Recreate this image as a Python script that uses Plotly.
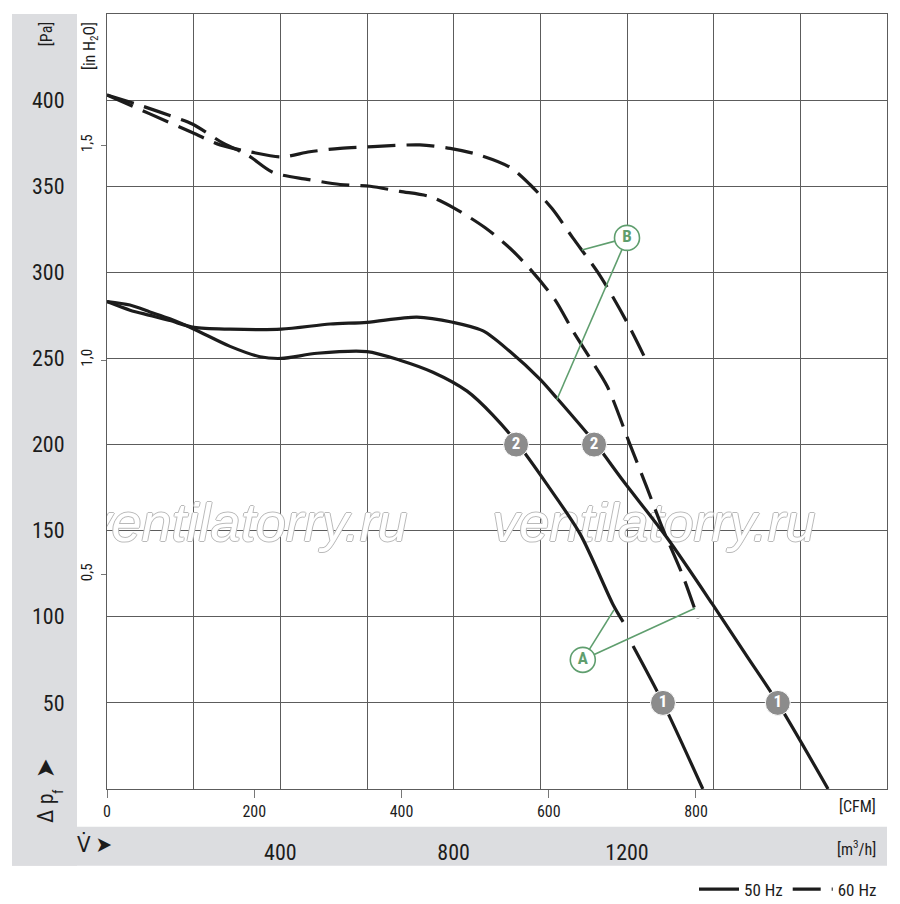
import plotly.graph_objects as go

# fan curves, flow in m3/h, pressure in Pa
q_50_high = [0, 53, 99, 145, 201, 284, 402, 515, 600, 715, 798, 868, 930, 999, 1038, 1126, 1191, 1292, 1398, 1477, 1548, 1664]
p_50_high = [283, 278, 275, 272, 268, 267, 267, 270, 271, 274, 271, 266, 254, 238, 227, 201, 179, 146, 107, 77, 50, 0]

q_50_low = [0, 53, 99, 145, 201, 284, 353, 402, 485, 600, 676, 752, 831, 891, 946, 1015, 1092, 1168, 1191, None, 1214, 1283, 1375]
p_50_low = [283, 281, 277, 273, 267, 257, 251, 250, 253, 254, 249, 242, 231, 217, 201, 177, 148, 107, 97, None, 83, 50, 0]

q_60_high = [0, 99, 198, 261, 330, 402, 468, 538, 614, 722, 792, 861, 930, 976, 1027, 1075, 1138, 1200, 1242]
p_60_high = [403, 392, 381, 374, 370, 367, 370, 372, 373, 374, 372, 368, 361, 351, 337, 320, 298, 271, 250]

q_60_low = [0, 76, 145, 198, 268, 325, 383, 462, 538, 607, 676, 745, 803, 872, 930, 976, 1034, 1075, 1115, 1154, 1207, 1246, 1281, 1327, 1364]
p_60_low = [403, 397, 391, 386, 375, 368, 358, 354, 351, 350, 347, 344, 337, 326, 314, 302, 284, 266, 250, 234, 200, 175, 152, 125, 99]

# numbered operating points
num_q = [944, 1124, 1283, 1548]
num_p = [200, 200, 50, 50]
num_text = ["2", "2", "1", "1"]

# A / B callouts (circle centre, then leader ends)
call_q = [1098, 1200]
call_p = [75, 320]
call_text = ["A", "B"]
lead_q = [1098, 1170, None, 1098, 1357, None, 1200, 1096, None, 1200, 1038]
lead_p = [75, 104, None, 75, 105, None, 320, 313, None, 320, 226]

# watermark
wm_q = [321, 1262]
wm_p = [152, 152]
wm_text = ["ventilatorry.ru", "ventilatorry.ru"]

m3h_ticks = [400, 800, 1200]
grid_minor = [200, 600, 1000, 1400, 1600]
cfm_ticks = [0, 200, 400, 600, 800]
pa_ticks = [50, 100, 150, 200, 250, 300, 350, 400]
inh2o_ticks = [0.5, 1.0, 1.5]
inh2o_text = ["0,5", "1,0", "1,5"]

FONT = "Liberation Sans Narrow, Roboto Condensed, DejaVu Sans Condensed, Arial Narrow, sans-serif"
INK = "#1c1c1c"
GRID = "#5c5c5c"
GREEN = "#5f9e6e"
BAND = "#dcdde0"

# the page is captured a bit taller than 904, so lay out on 920 and map reference y onto it
SY = 920 / 904
W, H = 900, 920
L, R = 107, 13
T, B = round(14 * SY), H - round(792 * SY)
PW, PH = W - L - R, H - T - B


def px(x):
    return (x - L) / PW


def py(y):
    return (H - B - y * SY) / PH


def label(x, y, text, size, angle=0, xanchor="center"):
    return dict(xref="paper", yref="paper", x=px(x), y=py(y), text=text, textangle=angle,
                showarrow=False, xanchor=xanchor, yanchor="middle", font=dict(size=size, color=INK))


fig = go.Figure()

wm_edge = "#b9b9b9"
fig.add_trace(go.Scatter(x=wm_q, y=wm_p, mode="text", text=wm_text, showlegend=False, hoverinfo="skip",
                         textfont=dict(family="Liberation Sans, Arial, sans-serif", size=54, style="italic",
                                       color="white",
                                       shadow=f"1px 0 0 {wm_edge}, -1px 0 0 {wm_edge}, 0 1px 0 {wm_edge}, "
                                              f"0 -1px 0 {wm_edge}")))

dash = "28px,11px"
curves = [
    (q_50_high, p_50_high, "solid", "50 Hz", True),
    (q_50_low, p_50_low, "solid", "50 Hz", False),
    (q_60_high, p_60_high, dash, "60 Hz", True),
    (q_60_low, p_60_low, dash, "60 Hz", False),
]
for q, p, d, name, leg in curves:
    fig.add_trace(go.Scatter(x=q, y=p, mode="lines", name=name, legendgroup=name, showlegend=leg,
                             line=dict(color=INK, width=3.2, dash=d, shape="spline", smoothing=0.8),
                             connectgaps=False, hoverinfo="skip"))

fig.add_trace(go.Scatter(x=lead_q, y=lead_p, mode="lines", showlegend=False, hoverinfo="skip",
                         line=dict(color=GREEN, width=1.6)))
fig.add_trace(go.Scatter(x=call_q, y=call_p, mode="markers+text", text=call_text, showlegend=False,
                         hoverinfo="skip", textposition="middle center",
                         marker=dict(size=25, color="white", line=dict(color=GREEN, width=1.6)),
                         textfont=dict(family=FONT, size=17, color=GREEN, weight="bold")))
fig.add_trace(go.Scatter(x=num_q, y=num_p, mode="markers+text", text=num_text, showlegend=False,
                         hoverinfo="skip", textposition="middle center",
                         marker=dict(size=25, color="#8c8c8c", line=dict(color="white", width=1)),
                         textfont=dict(family=FONT, size=17, color="white", weight="bold")))

# secondary axes (CFM, in H2O)
fig.add_trace(go.Scatter(x=[None], y=[None], xaxis="x2", yaxis="y2", showlegend=False, hoverinfo="skip"))

fig.update_layout(
    width=W, height=H,
    margin=dict(l=L, r=R, t=T, b=B),
    paper_bgcolor="white", plot_bgcolor="white",
    font=dict(family=FONT, color=INK),
    xaxis=dict(range=[0, 1800], tickmode="array", tickvals=m3h_ticks, ticktext=[str(v) for v in m3h_ticks],
               showgrid=True, gridcolor=GRID, gridwidth=1, zeroline=False,
               minor=dict(tickmode="array", tickvals=grid_minor, showgrid=True, gridcolor=GRID, gridwidth=1, ticks=""),
               showline=True, mirror=True, linecolor=GRID, linewidth=1, ticks="",
               ticklabelstandoff=44, tickfont=dict(size=22, color=INK)),
    xaxis2=dict(overlaying="x", anchor="y", side="bottom", range=[0, 1800 / 1.699],
                tickmode="array", tickvals=cfm_ticks, showgrid=False, zeroline=False, showline=False,
                ticks="outside", ticklen=8, tickcolor="#777", tickwidth=1,
                tickfont=dict(size=16, color=INK)),
    yaxis=dict(range=[0, 450], tickmode="array", tickvals=pa_ticks, showgrid=True, gridcolor=GRID, gridwidth=1,
               zeroline=False, showline=True, mirror=True, linecolor=GRID, linewidth=1, ticks="",
               ticklabelstandoff=37, tickfont=dict(size=22, color=INK)),
    yaxis2=dict(overlaying="y", anchor="x", side="left", range=[0, 450 / 249.089],
                tickmode="array", tickvals=inh2o_ticks, ticktext=inh2o_text, tickangle=-90,
                showgrid=False, zeroline=False, showline=False,
                ticks="outside", ticklen=5, tickcolor="#777", ticklabelstandoff=3,
                tickfont=dict(size=15, color=INK)),
    legend=dict(orientation="h", x=px(882), xanchor="right", y=py(875), yanchor="top",
                font=dict(size=17, color=INK), bgcolor="rgba(0,0,0,0)", itemwidth=40),
    shapes=[
        dict(type="rect", xref="paper", yref="paper", x0=px(12), x1=px(77), y0=py(869), y1=1,
             fillcolor=BAND, line=dict(width=0), layer="below"),
        dict(type="rect", xref="paper", yref="paper", x0=px(12), x1=px(887), y0=py(869), y1=py(830),
             fillcolor=BAND, line=dict(width=0), layer="below"),
    ],
    annotations=[
        label(46, 34, "[Pa]", 16, -90),
        label(90, 46, "[in H<sub>2</sub>O]", 16, -90),
        label(46, 812, "Δ p", 22, -90),
        label(58, 795, "f", 14, -90),
        label(45, 771, "➤", 26, -90),
        label(75, 848, "V̇ ➤", 22, xanchor="left"),
        label(878, 810, "[CFM]", 16, xanchor="right"),
        label(878, 852, "[m<sup>3</sup>/h]", 16, xanchor="right"),
    ],
)

page_fix = (
    "document.documentElement.style.margin='0';"
    "document.documentElement.style.overflow='hidden';"
    "document.body.style.margin='0';"
    "document.body.style.overflow='hidden';"
    "var g=document.querySelector('.plotly-graph-div');"
    "g.style.position='absolute';g.style.left='0';g.style.top='0';"
)
fig.write_html("out.html", config={"displayModeBar": False}, post_script=page_fix)
